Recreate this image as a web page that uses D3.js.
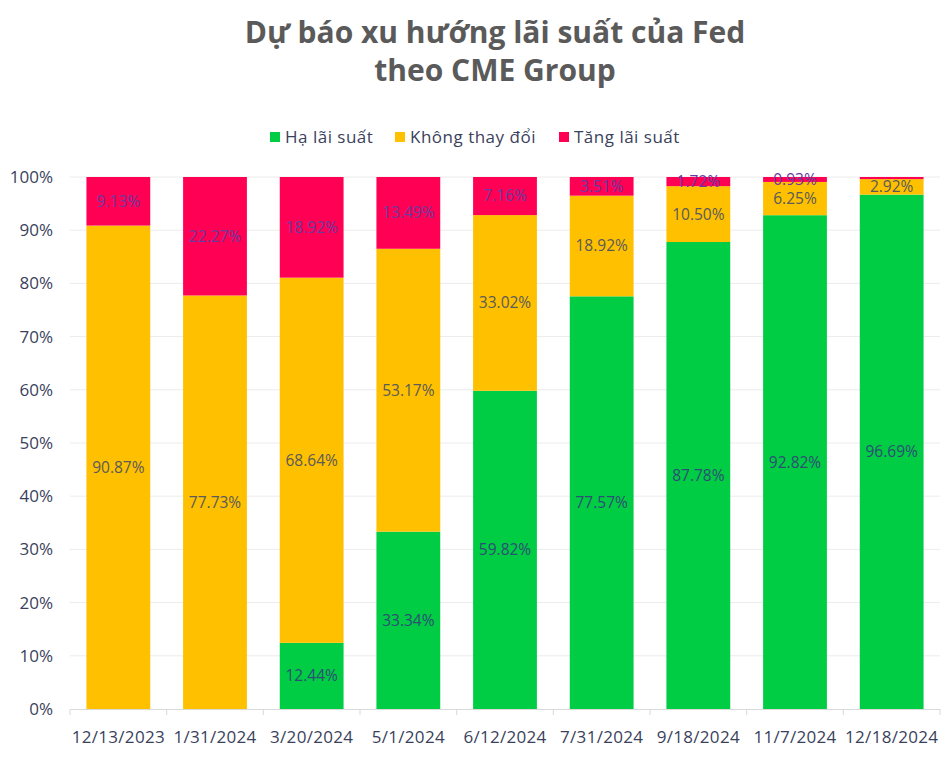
<!DOCTYPE html>
<html><head><meta charset="utf-8">
<script src="https://cdn.jsdelivr.net/npm/d3@7"></script>
<style>body{margin:0;background:#fff;} svg{display:block;font-family:"Open Sans",sans-serif;}</style>
</head><body><svg id="c" width="952" height="758"></svg>
<script>
const categories = ["12/13/2023","1/31/2024","3/20/2024","5/1/2024","6/12/2024","7/31/2024","9/18/2024","11/7/2024","12/18/2024"];
const cut  = [0, 0, 12.44, 33.34, 59.82, 77.57, 87.78, 92.82, 96.69];
const hold = [90.87, 77.73, 68.64, 53.17, 33.02, 18.92, 10.50, 6.25, 2.92];
const hike = [9.13, 22.27, 18.92, 13.49, 7.16, 3.51, 1.72, 0.93, 0.39];
const seriesNames = ["Hạ lãi suất","Không thay đổi","Tăng lãi suất"];
const colors = ["#00cc44","#ffc000","#ff0055"];
const labelColors = ["#2e4e74","#5a5a5a","#6a3a9e"];
const yTicks = [0,10,20,30,40,50,60,70,80,90,100];

const svg = d3.select("#c");
const m = {l:70, r:12, t:177, b:49};
const W = 952, H = 758;
const x = d3.scaleBand().domain(categories).range([m.l, W-m.r]).paddingInner(0.34).paddingOuter(0.17);
const y = d3.scaleLinear().domain([0,100]).range([H-m.b, m.t]);

// title
svg.append("text").attr("x",495).attr("y",43).attr("text-anchor","middle")
  .attr("font-size",30).attr("font-weight",700).attr("fill","#5a5a5a").text("Dự báo xu hướng lãi suất của Fed");
svg.append("text").attr("x",495).attr("y",81).attr("text-anchor","middle")
  .attr("font-size",30).attr("font-weight",700).attr("fill","#5a5a5a").text("theo CME Group");

// legend
const legX = [270, 395, 559];
seriesNames.forEach((n,i)=>{
  svg.append("rect").attr("x",legX[i]).attr("y",132).attr("width",10).attr("height",10).attr("fill",colors[i]);
  svg.append("text").attr("x",legX[i]+15).attr("y",143).attr("font-size",17).attr("letter-spacing",0.5)
    .attr("fill","#3a3f5c").text(n);
});

// grid
svg.append("g").selectAll("line").data(yTicks.filter(d=>d>0)).join("line")
  .attr("x1",m.l).attr("x2",W-m.r).attr("y1",d=>y(d)).attr("y2",d=>y(d))
  .attr("stroke","#ececec").attr("stroke-width",1);

// y axis
const ya = svg.append("g").attr("transform",`translate(${m.l},0)`)
  .call(d3.axisLeft(y).tickValues(yTicks).tickFormat(d=>d+"%").tickSize(0).tickPadding(17));
ya.select(".domain").remove();
ya.selectAll("text").attr("font-size",17).attr("fill","#3a3f5c").attr("font-family","'Open Sans',sans-serif");

// x axis
const xa = svg.append("g").attr("transform",`translate(0,${H-m.b})`)
  .call(d3.axisBottom(x).tickSize(0).tickPadding(22));
xa.select(".domain").attr("stroke","#d9d9d9");
xa.selectAll("text").attr("font-size",17).attr("letter-spacing",0.3).attr("fill","#3a3f5c").attr("font-family","'Open Sans',sans-serif");
xa.append("g").selectAll("line").data(d3.range(categories.length+1)).join("line")
  .attr("x1",i=>m.l + i*((W-m.r-m.l)/categories.length)).attr("x2",i=>m.l + i*((W-m.r-m.l)/categories.length))
  .attr("y1",0).attr("y2",6).attr("stroke","#d9d9d9");

// stacked bars
const data = categories.map((c,i)=>({cat:c, v:[cut[i],hold[i],hike[i]]}));
data.forEach(d=>{
  let acc = 0;
  d.v.forEach((v,k)=>{
    const y0 = acc, y1 = acc+v; acc = y1;
    if (v<=0) return;
    svg.append("rect").attr("x",x(d.cat)).attr("width",x.bandwidth())
      .attr("y",y(y1)).attr("height",y(y0)-y(y1)).attr("fill",colors[k]);
    if (v>=0.9) {
      svg.append("text").attr("x",x(d.cat)+x.bandwidth()/2).attr("y",(y(y0)+y(y1))/2)
        .attr("dy","0.35em").attr("text-anchor","middle").attr("font-size",15.5)
        .attr("fill",labelColors[k]).text(v.toFixed(2)+"%");
    }
  });
});
</script></body></html>
